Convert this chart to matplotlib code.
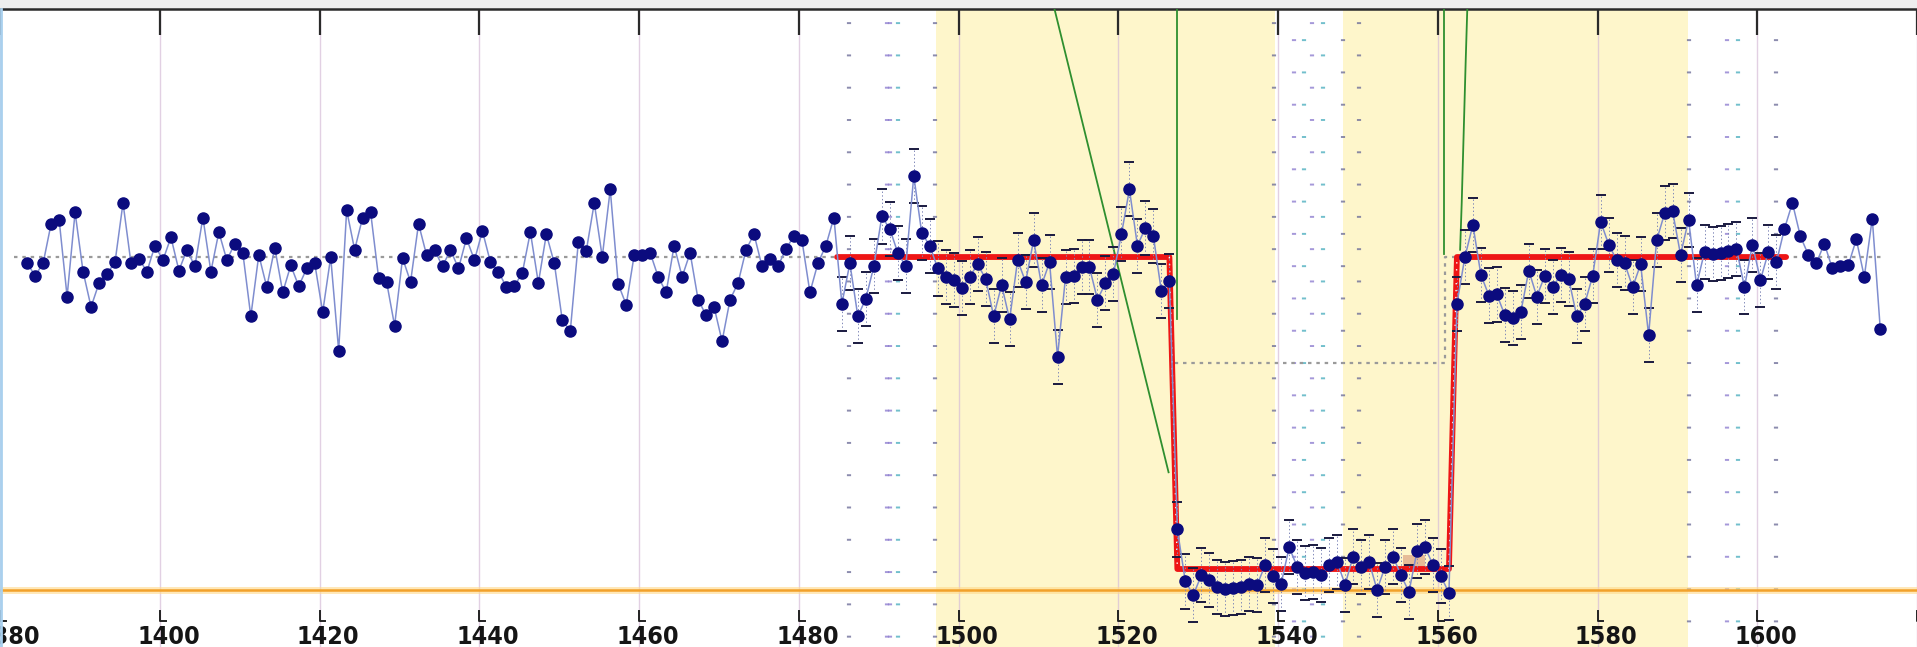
import matplotlib
matplotlib.use("Agg")
import matplotlib.pyplot as plt

plt.rcParams['lines.scale_dashes'] = False

# tiempos de cada punto (misma cadencia)
tiempo = [
    1383.4, 1384.4, 1385.4, 1386.4, 1387.4, 1388.4, 1389.4, 1390.4, 1391.4, 1392.4,
    1393.4, 1394.4, 1395.4, 1396.4, 1397.4, 1398.4, 1399.4, 1400.4, 1401.4, 1402.4,
    1403.4, 1404.4, 1405.4, 1406.4, 1407.4, 1408.4, 1409.4, 1410.4, 1411.4, 1412.4,
    1413.4, 1414.4, 1415.4, 1416.4, 1417.4, 1418.4, 1419.4, 1420.4, 1421.4, 1422.4,
    1423.4, 1424.4, 1425.4, 1426.4, 1427.4, 1428.4, 1429.4, 1430.4, 1431.4, 1432.4,
    1433.4, 1434.4, 1435.4, 1436.4, 1437.4, 1438.4, 1439.4, 1440.4, 1441.4, 1442.4,
    1443.4, 1444.4, 1445.4, 1446.4, 1447.4, 1448.4, 1449.4, 1450.4, 1451.4, 1452.4,
    1453.4, 1454.4, 1455.4, 1456.4, 1457.4, 1458.4, 1459.4, 1460.4, 1461.4, 1462.4,
    1463.4, 1464.4, 1465.4, 1466.4, 1467.4, 1468.4, 1469.4, 1470.4, 1471.4, 1472.4,
    1473.4, 1474.4, 1475.4, 1476.4, 1477.4, 1478.4, 1479.4, 1480.4, 1481.4, 1482.4,
    1483.4, 1484.4, 1485.4, 1486.4, 1487.4, 1488.4, 1489.4, 1490.4, 1491.4, 1492.4,
    1493.4, 1494.4, 1495.4, 1496.4, 1497.4, 1498.4, 1499.4, 1500.4, 1501.4, 1502.4,
    1503.4, 1504.4, 1505.4, 1506.4, 1507.4, 1508.4, 1509.4, 1510.4, 1511.4, 1512.4,
    1513.4, 1514.4, 1515.4, 1516.4, 1517.4, 1518.4, 1519.4, 1520.4, 1521.4, 1522.4,
    1523.4, 1524.4, 1525.4, 1526.4, 1527.4, 1528.4, 1529.4, 1530.4, 1531.4, 1532.4,
    1533.4, 1534.4, 1535.4, 1536.4, 1537.4, 1538.4, 1539.4, 1540.4, 1541.4, 1542.4,
    1543.4, 1544.4, 1545.4, 1546.4, 1547.4, 1548.4, 1549.4, 1550.4, 1551.4, 1552.4,
    1553.4, 1554.4, 1555.4, 1556.4, 1557.4, 1558.4, 1559.4, 1560.4, 1561.4, 1562.4,
    1563.4, 1564.4, 1565.4, 1566.4, 1567.4, 1568.4, 1569.4, 1570.4, 1571.4, 1572.4,
    1573.4, 1574.4, 1575.4, 1576.4, 1577.4, 1578.4, 1579.4, 1580.4, 1581.4, 1582.4,
    1583.4, 1584.4, 1585.4, 1586.4, 1587.4, 1588.4, 1589.4, 1590.4, 1591.4, 1592.4,
    1593.4, 1594.4, 1595.4, 1596.4, 1597.4, 1598.4, 1599.4, 1600.4, 1601.4, 1602.4,
    1603.4, 1604.4, 1605.4, 1606.4, 1607.4, 1608.4, 1609.4, 1610.4, 1611.4, 1612.4,
    1613.4, 1614.4, 1615.4,
]

# flujo relativo en partes por mil (0 = nivel base)
flujo = [
    -0.6, -1.8, -0.6, 3.2, 3.6, -3.8, 4.3, -1.4, -4.8, -2.5,
    -1.6, -0.5, 5.2, -0.6, -0.2, -1.4, 1.1, -0.3, 1.9, -1.3,
    0.7, -0.9, 3.8, -1.4, 2.4, -0.3, 1.3, 0.4, -5.7, 0.2,
    -2.9, 0.9, -3.4, -0.8, -2.8, -1.1, -0.6, -5.3, 0.0, -9.0,
    4.5, 0.7, 3.8, 4.3, -2.0, -2.4, -6.6, -0.1, -2.4, 3.2,
    0.2, 0.7, -0.9, 0.7, -1.1, 1.8, -0.3, 2.5, -0.5, -1.4,
    -2.9, -2.8, -1.5, 2.4, -2.5, 2.2, -0.6, -6.1, -7.1, 1.4,
    0.6, 5.2, 0.0, 6.5, -2.6, -4.6, 0.2, 0.2, 0.4, -1.9,
    -3.4, 1.1, -1.9, 0.4, -4.1, -5.6, -4.8, -8.1, -4.1, -2.5,
    0.7, 2.2, -0.9, -0.2, -0.9, 0.8, 2.0, 1.6, -3.4, -0.6,
    1.1, 3.8, -4.5, -0.6, -5.7, -4.0, -0.9, 3.9, 2.7, 0.4,
    -0.9, 7.8, 2.3, 1.1, -1.1, -1.9, -2.2, -3.0, -1.9, -0.7,
    -2.1, -5.7, -2.7, -6.0, -0.3, -2.4, 1.6, -2.7, -0.5, -9.6,
    -1.9, -1.8, -1.0, -1.0, -4.1, -2.5, -1.6, 2.2, 6.5, 1.1,
    2.8, 2.0, -3.3, -2.3, -26.2, -31.2, -32.5, -30.6, -31.1, -31.7,
    -31.9, -31.8, -31.7, -31.4, -31.5, -29.6, -30.7, -31.4, -27.9, -29.8,
    -30.4, -30.3, -30.6, -29.6, -29.3, -31.5, -28.8, -29.8, -29.3, -32.0,
    -29.8, -28.8, -30.6, -32.2, -28.3, -27.9, -29.6, -30.7, -32.3, -4.5,
    0.0, 3.1, -1.7, -3.7, -3.6, -5.6, -5.9, -5.3, -1.3, -3.8,
    -1.8, -2.9, -1.7, -2.1, -5.7, -4.5, -1.8, 3.4, 1.2, -0.3,
    -0.6, -2.9, -0.7, -7.5, 1.6, 4.2, 4.4, 0.2, 3.6, -2.7,
    0.5, 0.3, 0.4, 0.6, 0.8, -2.9, 1.2, -2.2, 0.5, -0.5,
    2.7, 5.2, 2.0, 0.2, -0.6, 1.3, -1.1, -0.9, -0.8, 1.7,
    -1.9, 3.7, -6.9,
]
error = 2.6          # barra de error (ppt) dentro de la ventana
ventana = (1485.0, 1603.0)

# zonas amarillas
zonas = [(1497.2, 1539.6), (1548.1, 1591.3)]

# modelo (linea roja)
modelo_t = [1484.8, 1526.4, 1527.4, 1561.4, 1562.4, 1603.6]
modelo_f = [0.0, 0.0, -30.0, -30.0, 0.0, 0.0]

# linea punteada gris (nivel previo)
previo_t = [1381.7, 1526.6, 1526.6, 1560.9, 1560.9, 1615.8]
previo_f = [0.0, 0.0, -10.2, -10.2, 0.0, 0.0]

# lineas verdes
verde_diag_t = [1512.0, 1526.3]
verde_diag_f = [23.9, -20.7]
verde_izq_t = [1527.4, 1527.4]
verde_izq_f = [23.9, -6.0]
verde_der_t = [1560.8, 1560.8]
verde_der_f = [23.9, 0.3]
verde_der2_t = [1563.7, 1563.5, 1563.0, 1562.8]
verde_der2_f = [23.9, 18.9, 5.2, 0.7]

# columnas punteadas (tiempo, color, fase)
col_t = [1486.3, 1491.0, 1491.4, 1492.4, 1497.1,
         1539.5, 1542.0, 1543.2, 1544.3, 1545.6, 1548.1, 1550.2,
         1591.5, 1596.2, 1597.6, 1602.3]
col_color = ['#6f6f9a', '#8f7fd0', '#8f7fd0', '#4fb0c0', '#6f6f9a',
             '#6f6f9a', '#8f7fd0', '#4fb0c0', '#8f7fd0', '#4fb0c0', '#6f6f9a', '#6f6f9a',
             '#6f6f9a', '#8f7fd0', '#4fb0c0', '#6f6f9a']
col_fase = ['A', 'A', 'A', 'A', 'A',
            'A', 'B', 'B', 'A', 'A', 'B', 'A',
            'B', 'B', 'B', 'B']

marcas = [1380, 1400, 1420, 1440, 1460, 1480, 1500, 1520, 1540, 1560, 1580, 1600, 1620]
etiquetas = ['1380', '1400', '1420', '1440', '1460', '1480', '1500', '1520', '1540',
             '1560', '1580', '1600', '']

orange_nivel = -32.0
parche_t = [1555.7, 1558.4]

fig = plt.figure(figsize=(19.17, 6.47), dpi=100)
fig.patch.set_facecolor('#eeeeee')
ax = fig.add_axes([0, 0, 1, 638 / 647])
ax.set_facecolor('white')
ax.set_xlim(1381.7, 1615.8)
ax.set_ylim(-37.5, 23.85)

for a, b in zonas:
    ax.axvspan(a, b, color='#fef6cb', lw=0, zorder=0)

for m in marcas:
    ax.axvline(m, color='#d7bcd8', lw=1, alpha=0.7, zorder=1)

for t, c, f in zip(col_t, col_color, col_fase):
    off = 16.5 if f == 'A' else 5.5
    ax.axvline(t, color=c, lw=3, linestyle=(off, (1.4, 21.85)), alpha=0.8, zorder=1)

ax.axhline(orange_nivel, color='#ffd98a', lw=5, alpha=0.6, zorder=2)
ax.axhline(orange_nivel, color='#f2a12a', lw=1.8, zorder=2)

ax.plot(previo_t, previo_f, color='#9a9a9a', lw=1.6, linestyle=(0, (2.5, 3.5)), zorder=2)

ax.fill_between(parche_t, -30.0, -28.7, color='#e0ae8c', alpha=0.8, lw=0, zorder=3)

for tt, ff in [(verde_diag_t, verde_diag_f), (verde_izq_t, verde_izq_f),
               (verde_der_t, verde_der_f), (verde_der2_t, verde_der2_f)]:
    ax.plot(tt, ff, color='#2f8f2f', lw=1.3, zorder=3)

ax.plot(modelo_t, modelo_f, color='#ee1515', lw=4.2, solid_joinstyle='round',
        solid_capstyle='round', zorder=4)
ax.plot(modelo_t[1:3], modelo_f[1:3], color='white', lw=1, linestyle=(0, (1, 4)), zorder=4)
ax.plot(modelo_t[3:5], modelo_f[3:5], color='white', lw=1, linestyle=(0, (1, 4)), zorder=4)

# barras de error en la ventana
t_v = [t for t in tiempo if ventana[0] <= t <= ventana[1]]
f_v = [f for t, f in zip(tiempo, flujo) if ventana[0] <= t <= ventana[1]]
ax.vlines(t_v, [f - error for f in f_v], [f + error for f in f_v],
          color='#8088b8', lw=0.7, linestyles='dotted', zorder=5)
ax.plot(t_v, [f + error for f in f_v], '_', color='#1a1a40', ms=7, mew=1.4, zorder=5)
ax.plot(t_v, [f - error for f in f_v], '_', color='#1a1a40', ms=7, mew=1.4, zorder=5)

ax.plot(tiempo, flujo, color='#7f8dcf', lw=1.1, zorder=6)
ax.plot(tiempo, flujo, 'o', color='#0b0b7e', ms=8, mec='#0b0b7e', zorder=7)

# ejes
for s in ['left', 'right', 'bottom']:
    ax.spines[s].set_visible(False)
ax.spines['top'].set_color('#2a2a2a')
ax.spines['top'].set_linewidth(1.8)
ax.set_yticks([])
ax.set_xticks(marcas)
ax.xaxis.set_ticks_position('top')
ax.tick_params(axis='x', direction='in', length=19, width=1.6, color='#2a2a2a',
               labeltop=False, labelbottom=False)

trans = ax.get_xaxis_transform()
for m, lab in zip(marcas, etiquetas):
    ax.plot([m, m, m + 0.75], [0.056, 0.041, 0.041], transform=trans,
            color='#222222', lw=1.4, zorder=8)
    ax.text(m + 1.1, 0.004, lab, transform=trans, ha='center', va='baseline',
            fontsize=18, fontweight='bold', fontstretch='condensed', color='#151515',
            family=['DejaVu Sans'], zorder=8)

fig.add_artist(plt.Line2D([0.0006, 0.0006], [0, 638 / 647], transform=fig.transFigure,
                          color='#a9d0ee', lw=2))

fig.savefig('out.png', dpi=100)
